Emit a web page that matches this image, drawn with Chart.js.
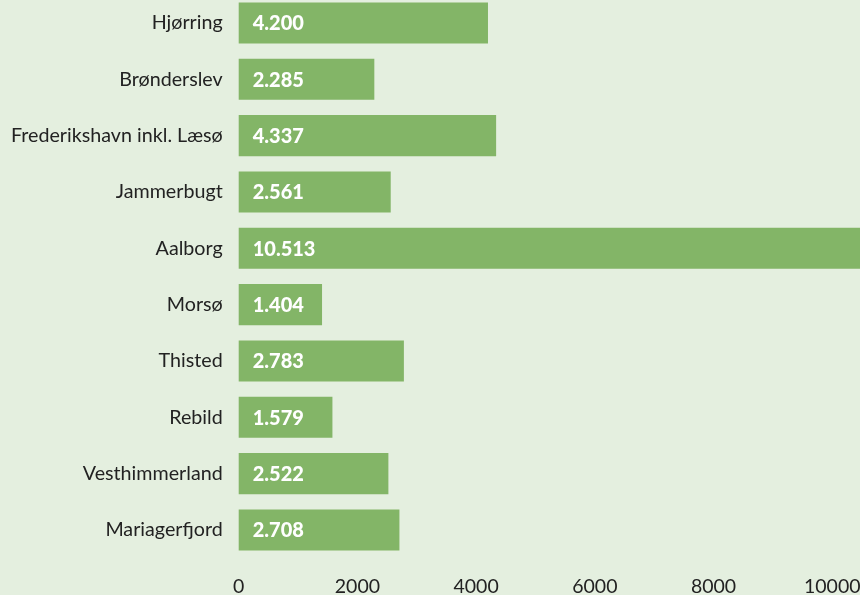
<!DOCTYPE html>
<html><head><meta charset="utf-8">
<script src="https://cdn.jsdelivr.net/npm/chart.js@4/dist/chart.umd.min.js"></script>
<style>
html,body{margin:0;padding:0;background:#e4efdf;overflow:hidden;width:860px;height:595px;}
#wrap{position:absolute;left:-5px;top:-33.3px;width:882px;height:647.5px;}
</style></head><body>
<div id="wrap"><canvas id="c"></canvas></div>
<script>
const categories = ["Hjørring","Brønderslev","Frederikshavn inkl. Læsø","Jammerbugt","Aalborg","Morsø","Thisted","Rebild","Vesthimmerland","Mariagerfjord"];
const values = [4200,2285,4337,2561,10513,1404,2783,1579,2522,2708];
const tickValues = [0,2000,4000,6000,8000,10000];

function fmt(v){ return String(v).replace(/\B(?=(\d{3})+(?!\d))/g,'.'); }

const valueLabels = {
  id:'valueLabels',
  afterDatasetsDraw(chart){
    const ctx = chart.ctx;
    const meta = chart.getDatasetMeta(0);
    ctx.save();
    ctx.font = '900 20px Lato';
    ctx.fillStyle = '#ffffff';
    ctx.textAlign = 'left';
    ctx.textBaseline = 'middle';
    meta.data.forEach((bar,i)=>{
      ctx.fillText(fmt(values[i]), bar.base + 14, bar.y + 1);
    });
    ctx.restore();
  }
};

new Chart(document.getElementById('c'),{
  type:'bar',
  data:{labels:categories,datasets:[{data:values,backgroundColor:'#83b567',borderWidth:0,barPercentage:0.73,categoryPercentage:1,clip:false}]},
  options:{
    indexAxis:'y',responsive:true,maintainAspectRatio:false,animation:false,
    layout:{padding:{left:0,right:0,top:0,bottom:0}},
    plugins:{legend:{display:false},tooltip:{enabled:false}},
    scales:{
      x:{min:0,max:10000,
        afterBuildTicks(s){ s.ticks = tickValues.map(v=>({value:v})); },
        grid:{display:false,drawTicks:false},border:{display:false},
        ticks:{color:'#222222',font:{family:'Lato',size:19.5},padding:16.5,maxRotation:0,
          callback:(v)=>String(v)}},
      y:{grid:{display:false,drawTicks:false},border:{display:false},
        ticks:{color:'#222222',font:{family:'Lato',size:19.7},padding:16}}
    }
  },
  plugins:[valueLabels]
});
</script></body></html>
